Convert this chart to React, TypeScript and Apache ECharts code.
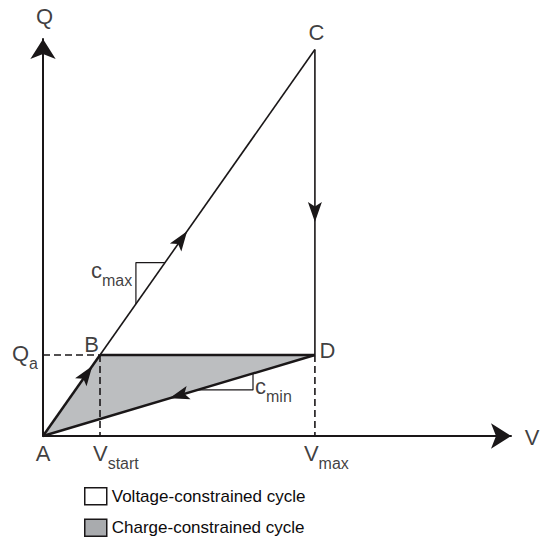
import React, { useEffect, useRef } from 'react';
import * as echarts from 'echarts';

// ---- data (arbitrary units: V on x, Q on y) ----
const pointLabels = ['A', 'B', 'C', 'D'];
const pointV = [0, 1.0, 4.77, 4.77];
const pointQ = [0, 1.0, 4.77, 1.0];

const axisTitles = ['V', 'Q'];
const axisMax = [8.21, 4.9];

// slope markers: c_max on A→C (Q range), c_min on D→A (V range)
const cMaxQRange = [1.63, 2.14];
const cMinVRange = [2.71, 3.684];

const subLabels = [
  ['Q', 'a'],
  ['V', 'start'],
  ['V', 'max'],
  ['c', 'max'],
  ['c', 'min'],
];

const legendNames = ['Voltage-constrained cycle', 'Charge-constrained cycle'];

// arrow-tip fractions along cycle segments
const arrowFrom = ['A', 'A', 'C', 'D'];
const arrowTo = ['B', 'C', 'D', 'A'];
const arrowTip = [0.865, 0.53, 0.565, 0.535];

const INK = '#1a1718';
const TEXT = '#0d0b0c';
const GRAY = '#bcbec0';
const LEGEND_GRAY = '#a9abae';
const FONT = "'Liberation Sans', Arial, Helvetica, sans-serif";

export default function App() {
  const ref = useRef<HTMLDivElement>(null);

  useEffect(() => {
    const chart = echarts.init(ref.current as HTMLDivElement, null, { renderer: 'svg' });

    const P: Record<string, number[]> = {};
    pointLabels.forEach((n, i) => (P[n] = [pointV[i], pointQ[i]]));
    const A = P.A, B = P.B, C = P.C, D = P.D;
    const lerp = (p: number[], q: number[], t: number) => [p[0] + (q[0] - p[0]) * t, p[1] + (q[1] - p[1]) * t];

    const vOnAC = (q: number) => (q * C[0]) / C[1];
    const cMaxPts = [
      [vOnAC(cMaxQRange[0]), cMaxQRange[0]],
      [vOnAC(cMaxQRange[0]), cMaxQRange[1]],
      [vOnAC(cMaxQRange[1]), cMaxQRange[1]],
    ];
    const qOnDA = (v: number) => (v * D[1]) / D[0];
    const cMinPts = [
      [cMinVRange[0], qOnDA(cMinVRange[0])],
      [cMinVRange[1], qOnDA(cMinVRange[0])],
      [cMinVRange[1], qOnDA(cMinVRange[1])],
    ];

    const seg = (pts: number[][], width: number, dashed = false) => ({
      type: 'line',
      data: pts,
      showSymbol: false,
      symbol: 'none',
      silent: true,
      clip: false,
      z: 3,
      lineStyle: { color: INK, width, type: dashed ? [7, 4] : 'solid', cap: 'butt' },
    });

    const poly = (name: string, pts: number[][], fill: string) => ({
      type: 'custom',
      name,
      silent: true,
      z: 1,
      itemStyle: { color: fill },
      data: [[0, 0]],
      renderItem: (_p: any, api: any) => ({
        type: 'polygon',
        shape: { points: pts.map((p) => api.coord(p)) },
        style: { fill, stroke: 'none' },
      }),
    });

    // arrow heads drawn through the axes' scales
    const ARROW_L = 20;
    const ARROW_W = 14;
    const arrowSeries = {
      type: 'custom',
      silent: true,
      z: 4,
      data: arrowTip.map((_, i) => [i]),
      encode: { x: -1, y: -1 },
      renderItem: (params: any, api: any) => {
        const i = params.dataIndex;
        const s = P[arrowFrom[i]];
        const e = P[arrowTo[i]];
        const ps = api.coord(s);
        const pe = api.coord(e);
        const tip = api.coord(lerp(s, e, arrowTip[i]));
        let ux = pe[0] - ps[0];
        let uy = pe[1] - ps[1];
        const len = Math.hypot(ux, uy);
        ux /= len;
        uy /= len;
        const nx = -uy;
        const ny = ux;
        const bx = tip[0] - ARROW_L * ux;
        const by = tip[1] - ARROW_L * uy;
        const mx = tip[0] - ARROW_L * 0.78 * ux;
        const my = tip[1] - ARROW_L * 0.78 * uy;
        return {
          type: 'polygon',
          shape: {
            points: [
              tip,
              [bx + (ARROW_W / 2) * nx, by + (ARROW_W / 2) * ny],
              [mx, my],
              [bx - (ARROW_W / 2) * nx, by - (ARROW_W / 2) * ny],
            ],
          },
          style: { fill: INK, stroke: 'none' },
        };
      },
    };

    const rich = {
      m: { fontSize: 22, lineHeight: 22, verticalAlign: 'top', color: TEXT, fontFamily: FONT },
      s: { fontSize: 16, lineHeight: 16, verticalAlign: 'top', padding: [13, 0, 0, 0], color: TEXT, fontFamily: FONT },
    };
    const sub = (i: number) => `{m|${subLabels[i][0]}}{s|${subLabels[i][1]}}`;

    const labelData = [
      { value: [0, axisMax[1]], label: { formatter: axisTitles[1], offset: [1.5, -22.5] } },
      { value: [axisMax[0], 0], label: { formatter: axisTitles[0], offset: [21, 1] } },
      { value: A, label: { formatter: pointLabels[0], offset: [0, 17] } },
      { value: B, label: { formatter: pointLabels[1], offset: [-8.5, -10.5] } },
      { value: C, label: { formatter: pointLabels[2], offset: [1.5, -17] } },
      { value: D, label: { formatter: pointLabels[3], offset: [12.5, -4.5] } },
      { value: [0, B[1]], label: { formatter: sub(0), align: 'left', rich, offset: [-31, -1] } },
      { value: [B[0], 0], label: { formatter: sub(1), align: 'left', rich, offset: [-7, 17] } },
      { value: [D[0], 0], label: { formatter: sub(2), align: 'left', rich, offset: [-11, 17] } },
      { value: cMaxPts[1], label: { formatter: sub(3), align: 'left', rich, offset: [-45, 8] } },
      { value: cMinPts[1], label: { formatter: sub(4), align: 'left', rich, offset: [2, -3] } },
    ];

    const axisCommon = {
      type: 'value',
      min: 0,
      axisTick: { show: false },
      axisLabel: { show: false },
      splitLine: { show: false },
      axisLine: {
        show: true,
        onZero: false,
        symbol: ['none', 'arrow'],
        symbolSize: [19, 20],
        lineStyle: { color: INK, width: 2 },
      },
    };

    const option: any = {
      animation: false,
      backgroundColor: '#ffffff',
      grid: { left: 43, top: 39, right: 29, bottom: 101, containLabel: false },
      xAxis: { ...axisCommon, max: axisMax[0] },
      yAxis: { ...axisCommon, max: axisMax[1] },
      legend: {
        orient: 'vertical',
        left: 84,
        top: 487,
        padding: 0,
        itemWidth: 22,
        itemHeight: 17,
        itemGap: 13,
        selectedMode: false,
        textStyle: { fontSize: 17, color: TEXT, fontFamily: FONT },
        data: [
          { name: legendNames[0], icon: 'rect', itemStyle: { color: '#ffffff', borderColor: INK, borderWidth: 1.5 } },
          { name: legendNames[1], icon: 'rect', itemStyle: { color: LEGEND_GRAY, borderColor: INK, borderWidth: 1.5 } },
        ],
      },
      series: [
        poly(legendNames[0], [A, C, D], '#ffffff'),
        poly(legendNames[1], [A, B, D], GRAY),
        seg([A, B], 2.5),
        seg([B, C], 1.6),
        seg([C, D], 1.6),
        seg([B, D], 2.4),
        seg([D, A], 2.4),
        seg([[0, B[1]], B], 1.6, true),
        seg([B, [B[0], 0]], 1.6, true),
        seg([D, [D[0], 0]], 1.6, true),
        seg(cMaxPts, 1.2),
        seg(cMinPts, 1.2),
        arrowSeries,
        {
          type: 'scatter',
          silent: true,
          clip: false,
          z: 5,
          symbolSize: 1,
          itemStyle: { color: 'rgba(0,0,0,0)' },
          label: {
            show: true,
            position: 'inside',
            fontSize: 22,
            color: TEXT,
            fontFamily: FONT,
          },
          data: labelData,
        },
      ],
    };

    chart.setOption(option);
    return () => chart.dispose();
  }, []);

  return (
    <div
      ref={ref}
      style={{ position: 'absolute', left: 0, top: 0, width: 540, height: 537, background: '#fff' }}
    />
  );
}
